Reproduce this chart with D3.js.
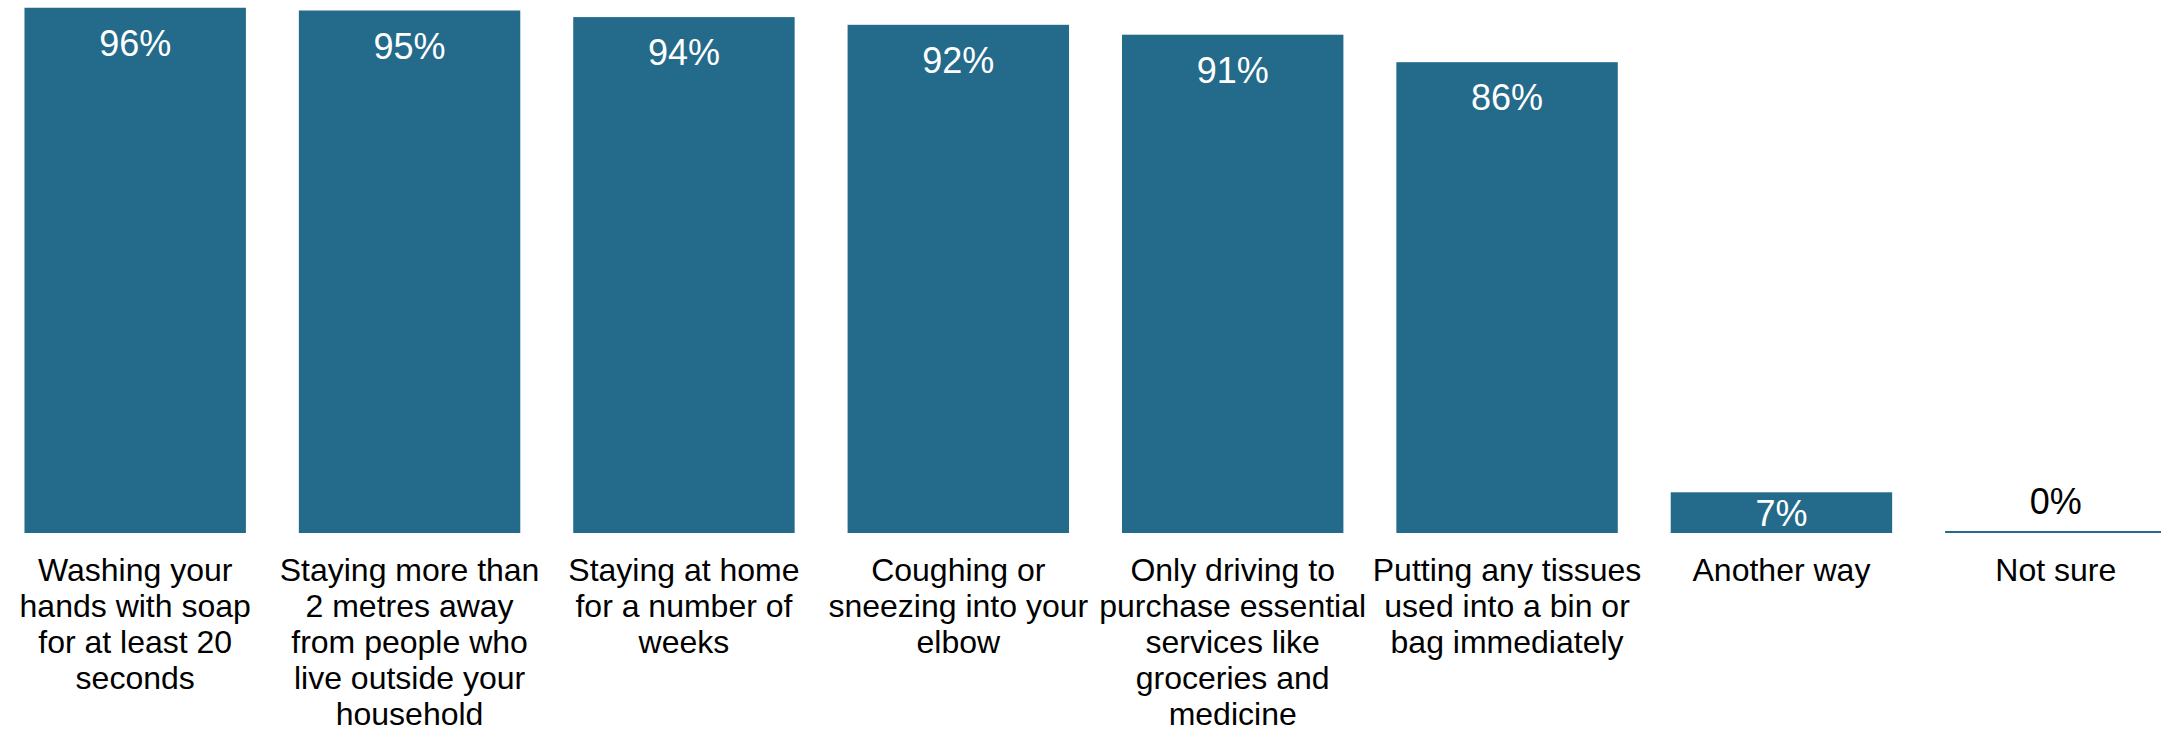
<!DOCTYPE html>
<html>
<head>
<meta charset="utf-8">
<script src="https://cdn.jsdelivr.net/npm/d3@7"></script>
<style>
  html, body { margin: 0; padding: 0; background: #fff; overflow: hidden; }
  svg { display: block; }
</style>
</head>
<body>
<svg id="chart" width="2161" height="731"></svg>
<script>
// ---- data ----
const categories = [
  "Washing your\nhands with soap\nfor at least 20\nseconds",
  "Staying more than\n2 metres away\nfrom people who\nlive outside your\nhousehold",
  "Staying at home\nfor a number of\nweeks",
  "Coughing or\nsneezing into your\nelbow",
  "Only driving to\npurchase essential\nservices like\ngroceries and\nmedicine",
  "Putting any tissues\nused into a bin or\nbag immediately",
  "Another way",
  "Not sure"
];
const values = [95.5, 95.0, 93.8, 92.4, 90.6, 85.6, 7.4, 0];
const yDomain = [0, 100];

// ---- layout ----
const W = 2161, H = 731;
const baseY = 533, topY = -17;
const barColor = "#246A8A";
const font = "'Liberation Sans', Arial, sans-serif";

const svg = d3.select("#chart");

const x = d3.scaleBand()
  .domain(d3.range(categories.length))
  .range([-2, 2193])
  .paddingInner(0.193)
  .paddingOuter(0.0965);

const y = d3.scaleLinear().domain(yDomain).range([baseY, topY]);

const fmt = v => Math.round(v) + "%";

// bars
svg.append("g").selectAll("rect")
  .data(values)
  .join("rect")
  .attr("x", (d, i) => x(i))
  .attr("width", x.bandwidth())
  .attr("y", d => Math.min(y(d), baseY - 2))
  .attr("height", d => Math.max(y(0) - y(d), 2))
  .attr("fill", barColor);

// value labels
svg.append("g").selectAll("text")
  .data(values)
  .join("text")
  .attr("x", (d, i) => x(i) + x.bandwidth() / 2)
  .attr("y", d => {
    const h = y(0) - y(d);
    if (d === 0) return baseY - 19;
    if (h < 60) return y(d) + h / 2 + 13;
    return y(d) + 48;
  })
  .attr("text-anchor", "middle")
  .attr("font-family", font)
  .attr("font-size", 36)
  .attr("fill", d => d === 0 ? "#000" : "#fff")
  .text(fmt);

// category labels
const lab = svg.append("g").selectAll("text")
  .data(categories)
  .join("text")
  .attr("x", (d, i) => x(i) + x.bandwidth() / 2)
  .attr("y", 581)
  .attr("text-anchor", "middle")
  .attr("font-family", font)
  .attr("font-size", 32)
  .attr("fill", "#000");

lab.each(function(d, i) {
  const t = d3.select(this);
  const cx = x(i) + x.bandwidth() / 2;
  d.split("\n").forEach((line, k) => {
    t.append("tspan")
      .attr("x", cx)
      .attr("dy", k === 0 ? 0 : 36)
      .text(line);
  });
});
</script>
</body>
</html>
